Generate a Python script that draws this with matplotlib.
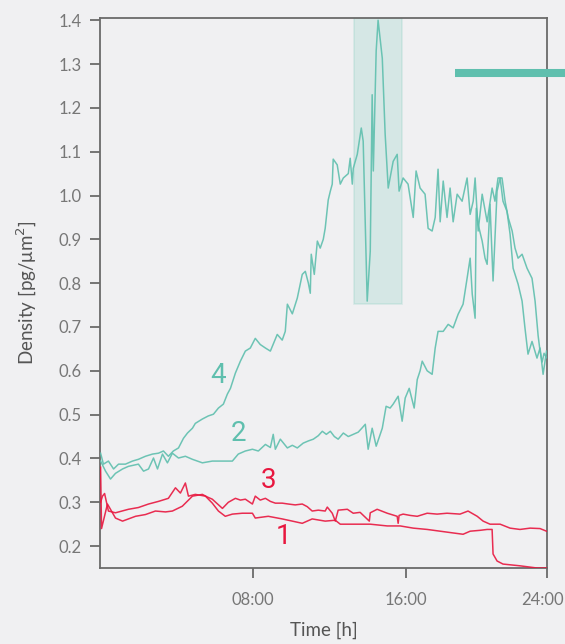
import matplotlib
matplotlib.use("Agg")
import matplotlib.pyplot as plt
import matplotlib.transforms as mtransforms
from matplotlib.lines import Line2D
from matplotlib.patches import Rectangle

TEAL = "#5fbfae"
RED = "#e8173f"
BG = "#f0f0f2"
GREY = "#6a6a6a"

# time in hours, density in pg/um^2
t4 = [0.03, 0.18, 0.44, 0.71, 0.97, 1.33, 1.70, 2.01, 2.38, 2.75, 3.06, 3.32, 3.58, 3.84,
      4.11, 4.37, 4.58, 4.84, 4.99, 5.36, 5.67, 5.94, 6.20, 6.46, 6.67, 6.83, 7.09, 7.35,
      7.61, 7.87, 8.13, 8.39, 8.66, 8.92, 9.28, 9.54, 9.70, 9.81, 10.07, 10.33, 10.59,
      10.75, 10.91, 11.01, 11.06, 11.22, 11.38, 11.53, 11.69, 11.79, 11.95, 12.06, 12.16,
      12.21, 12.42, 12.58, 12.74, 13.00, 13.10, 13.21, 13.26, 13.47, 13.68, 13.78, 13.99,
      14.15, 14.25, 14.31, 14.46, 14.56, 14.78, 14.93, 15.09, 15.35, 15.56, 15.66, 15.87,
      16.13, 16.40, 16.55, 16.76, 17.02, 17.18, 17.39, 17.55, 17.70, 17.81, 17.97, 18.17,
      18.33, 18.49, 18.70, 18.96, 19.22, 19.38, 19.54, 19.64, 19.80, 20.01, 20.27, 20.53,
      20.68, 20.84, 21.05, 21.21, 21.37, 21.58, 21.73, 21.89, 22.10, 22.36, 22.62, 22.78,
      22.94, 23.04, 23.15, 23.25, 23.38]
d4 = [0.412, 0.387, 0.394, 0.376, 0.387, 0.387, 0.394, 0.398, 0.405, 0.410, 0.412, 0.417,
      0.405, 0.417, 0.424, 0.446, 0.458, 0.469, 0.480, 0.490, 0.497, 0.501, 0.515, 0.524,
      0.547, 0.560, 0.595, 0.622, 0.645, 0.652, 0.674, 0.660, 0.652, 0.645, 0.683, 0.670,
      0.690, 0.752, 0.730, 0.766, 0.820, 0.827, 0.800, 0.777, 0.866, 0.820, 0.896, 0.880,
      0.900, 0.925, 0.990, 1.010, 1.026, 1.083, 1.070, 1.026, 1.040, 1.050, 1.085, 1.026,
      1.062, 1.094, 1.154, 1.124, 0.759, 0.873, 1.230, 1.056, 1.330, 1.400, 1.313, 1.140,
      1.017, 1.078, 1.094, 1.010, 1.040, 1.026, 0.950, 1.056, 1.017, 1.003, 0.925, 0.919,
      0.950, 1.060, 0.940, 1.033, 0.950, 1.017, 0.940, 1.003, 0.987, 1.040, 0.957, 0.987,
      1.040, 0.919, 1.003, 0.940, 1.017, 0.987, 1.040, 1.040, 0.987, 0.950, 0.919, 0.880,
      0.857, 0.866, 0.834, 0.811, 0.759, 0.680, 0.645, 0.620, 0.640, 0.630]

t2 = [0.03, 0.29, 0.55, 0.81, 1.18, 1.49, 2.01, 2.28, 2.54, 2.80, 3.01, 3.27, 3.53, 3.79,
      4.11, 4.47, 4.84, 5.36, 5.88, 6.41, 6.93, 7.24, 7.61, 7.98, 8.29, 8.66, 8.92, 9.07,
      9.18, 9.44, 9.81, 10.07, 10.33, 10.64, 10.91, 11.17, 11.43, 11.64, 11.85, 12.06,
      12.27, 12.47, 12.74, 13.00, 13.26, 13.52, 13.73, 13.89, 14.04, 14.25, 14.46, 14.78,
      14.98, 15.19, 15.35, 15.61, 15.82, 15.98, 16.19, 16.45, 16.61, 16.76, 16.87, 17.13,
      17.39, 17.55, 17.70, 17.97, 18.23, 18.49, 18.75, 19.01, 19.22, 19.38, 19.49, 19.64,
      19.70, 19.80, 20.01, 20.16, 20.27, 20.42, 20.58, 20.79, 20.95, 21.10, 21.31, 21.47,
      21.63, 21.89, 22.10, 22.25, 22.41, 22.62, 22.88, 23.04, 23.20, 23.38]
d2 = [0.394, 0.371, 0.353, 0.366, 0.376, 0.382, 0.387, 0.371, 0.376, 0.401, 0.376, 0.410,
      0.390, 0.412, 0.401, 0.405, 0.398, 0.390, 0.394, 0.394, 0.394, 0.410, 0.417, 0.421,
      0.417, 0.432, 0.425, 0.455, 0.421, 0.444, 0.424, 0.430, 0.424, 0.435, 0.440, 0.444,
      0.452, 0.462, 0.455, 0.462, 0.450, 0.444, 0.458, 0.450, 0.455, 0.460, 0.470, 0.478,
      0.421, 0.469, 0.428, 0.469, 0.519, 0.515, 0.524, 0.542, 0.485, 0.538, 0.560, 0.515,
      0.580, 0.600, 0.622, 0.600, 0.592, 0.652, 0.690, 0.690, 0.706, 0.698, 0.729, 0.752,
      0.811, 0.857, 0.775, 0.720, 0.971, 0.934, 0.896, 0.857, 0.843, 0.980, 0.805, 1.010,
      1.040, 0.987, 0.964, 0.912, 0.834, 0.798, 0.759, 0.698, 0.638, 0.667, 0.629, 0.652,
      0.592, 0.645]

t3 = [0.03, 0.08, 0.39, 0.81, 1.18, 1.86, 2.38, 2.90, 3.43, 3.79, 4.31, 4.84, 5.36, 5.62,
      5.88, 6.41, 6.72, 7.09, 7.35, 7.61, 7.98, 8.13, 8.39, 8.66, 8.92, 9.18, 9.54, 9.86,
      10.22, 10.59, 10.85, 11.11, 11.43, 11.79, 11.90, 12.16, 12.32, 12.47, 12.95, 13.26,
      13.62, 14.10, 14.15, 14.51, 15.04, 15.56, 15.61, 15.66, 15.87, 16.24, 16.61, 17.13,
      17.65, 18.17, 18.85, 19.27, 19.75, 20.06, 20.42, 20.95, 21.47, 21.99, 22.52, 23.04,
      23.38]
d3 = [0.380, 0.240, 0.296, 0.264, 0.257, 0.268, 0.272, 0.280, 0.278, 0.280, 0.291, 0.314,
      0.318, 0.312, 0.307, 0.286, 0.300, 0.309, 0.305, 0.307, 0.296, 0.314, 0.305, 0.309,
      0.302, 0.298, 0.298, 0.296, 0.294, 0.296, 0.290, 0.280, 0.282, 0.280, 0.289, 0.275,
      0.257, 0.282, 0.284, 0.275, 0.277, 0.257, 0.276, 0.284, 0.275, 0.268, 0.252, 0.270,
      0.273, 0.270, 0.268, 0.275, 0.273, 0.275, 0.273, 0.280, 0.268, 0.257, 0.250, 0.250,
      0.241, 0.238, 0.241, 0.240, 0.234]

t1 = [0.03, 0.13, 0.24, 0.44, 0.81, 1.49, 2.01, 2.54, 3.06, 3.58, 3.95, 4.21, 4.47, 4.63,
      4.99, 5.52, 5.88, 6.20, 6.56, 6.93, 7.45, 7.98, 8.13, 8.81, 9.54, 10.07, 10.59, 11.11,
      11.79, 12.32, 12.58, 13.26, 14.15, 15.04, 15.72, 16.40, 17.13, 17.81, 18.49, 19.01,
      19.38, 19.90, 20.27, 20.53, 20.58, 20.79, 21.10, 21.99, 22.88, 23.38]
d1 = [0.300, 0.314, 0.320, 0.280, 0.276, 0.284, 0.288, 0.296, 0.302, 0.309, 0.333, 0.321,
      0.344, 0.314, 0.318, 0.314, 0.298, 0.280, 0.268, 0.273, 0.275, 0.275, 0.264, 0.268,
      0.262, 0.257, 0.252, 0.262, 0.257, 0.259, 0.250, 0.250, 0.250, 0.246, 0.246, 0.241,
      0.238, 0.234, 0.230, 0.227, 0.234, 0.236, 0.238, 0.238, 0.182, 0.166, 0.159, 0.155,
      0.150, 0.150]

y_ticks = [0.2, 0.3, 0.4, 0.5, 0.6, 0.7, 0.8, 0.9, 1.0, 1.1, 1.2, 1.3, 1.4]
x_ticks = [8, 16, 23.4]
x_tick_labels = ["08:00", "16:00", "24:00"]

plt.rcParams["font.family"] = ["Lato", "DejaVu Sans"]

fig = plt.figure(figsize=(5.65, 6.44), dpi=100, facecolor=BG)
ax = fig.add_axes([0.177, 0.118, 0.791, 0.854], facecolor=BG)

# highlighted window
ax.add_patch(Rectangle((13.3, 0.752), 2.5, 0.66, facecolor=TEAL, alpha=0.18,
                       edgecolor=TEAL, linewidth=1.2, zorder=1))

lw = 1.1
ax.plot(t4, d4, color=TEAL, lw=lw, alpha=0.9, zorder=3)
ax.plot(t2, d2, color=TEAL, lw=lw, alpha=0.9, zorder=3)
ax.plot(t3, d3, color=RED, lw=lw, alpha=0.9, zorder=3)
ax.plot(t1, d1, color=RED, lw=lw, alpha=0.9, zorder=3)

lab = dict(fontsize=20, ha="center", va="center", family=["Roboto", "DejaVu Sans"])
ax.text(6.2, 0.59, "4", color=TEAL, **lab)
ax.text(7.26, 0.458, "2", color=TEAL, **lab)
ax.text(8.8, 0.35, "3", color=RED, **lab)
ax.text(9.6, 0.222, "1", color=RED, **lab)

ax.set_xlim(0, 23.4)
ax.set_ylim(0.15, 1.405)
ax.set_yticks(y_ticks)
ax.set_yticklabels([f"{v:.1f}" for v in y_ticks])
ax.set_xticks(x_ticks)
ax.set_xticklabels(x_tick_labels)

for s in ax.spines.values():
    s.set_color(GREY)
    s.set_linewidth(1.3)
ax.tick_params(direction="out", length=7, width=1.3, color=GREY,
               labelcolor="#777777", labelsize=12)
ax.tick_params(axis="x", pad=10)
ax.tick_params(axis="y", pad=6)

# nudge the last x label so it stays inside the figure
last = ax.get_xticklabels()[-1]
last.set_transform(last.get_transform() +
                   mtransforms.ScaledTranslation(-3 / 72, 0, fig.dpi_scale_trans))

ax.set_xlabel("Time [h]", fontsize=13.5, color="#555555", labelpad=10)
ax.set_ylabel("Density [pg/\u03bcm$^2$]", fontsize=13.5, color="#555555", labelpad=14)

# thick teal stroke top right (legend remnant)
fig.add_artist(Line2D([0.805, 1.0], [0.887, 0.887], color=TEAL, lw=5.8,
                      solid_capstyle="butt"))

fig.savefig("out.png", dpi=100, facecolor=BG)
